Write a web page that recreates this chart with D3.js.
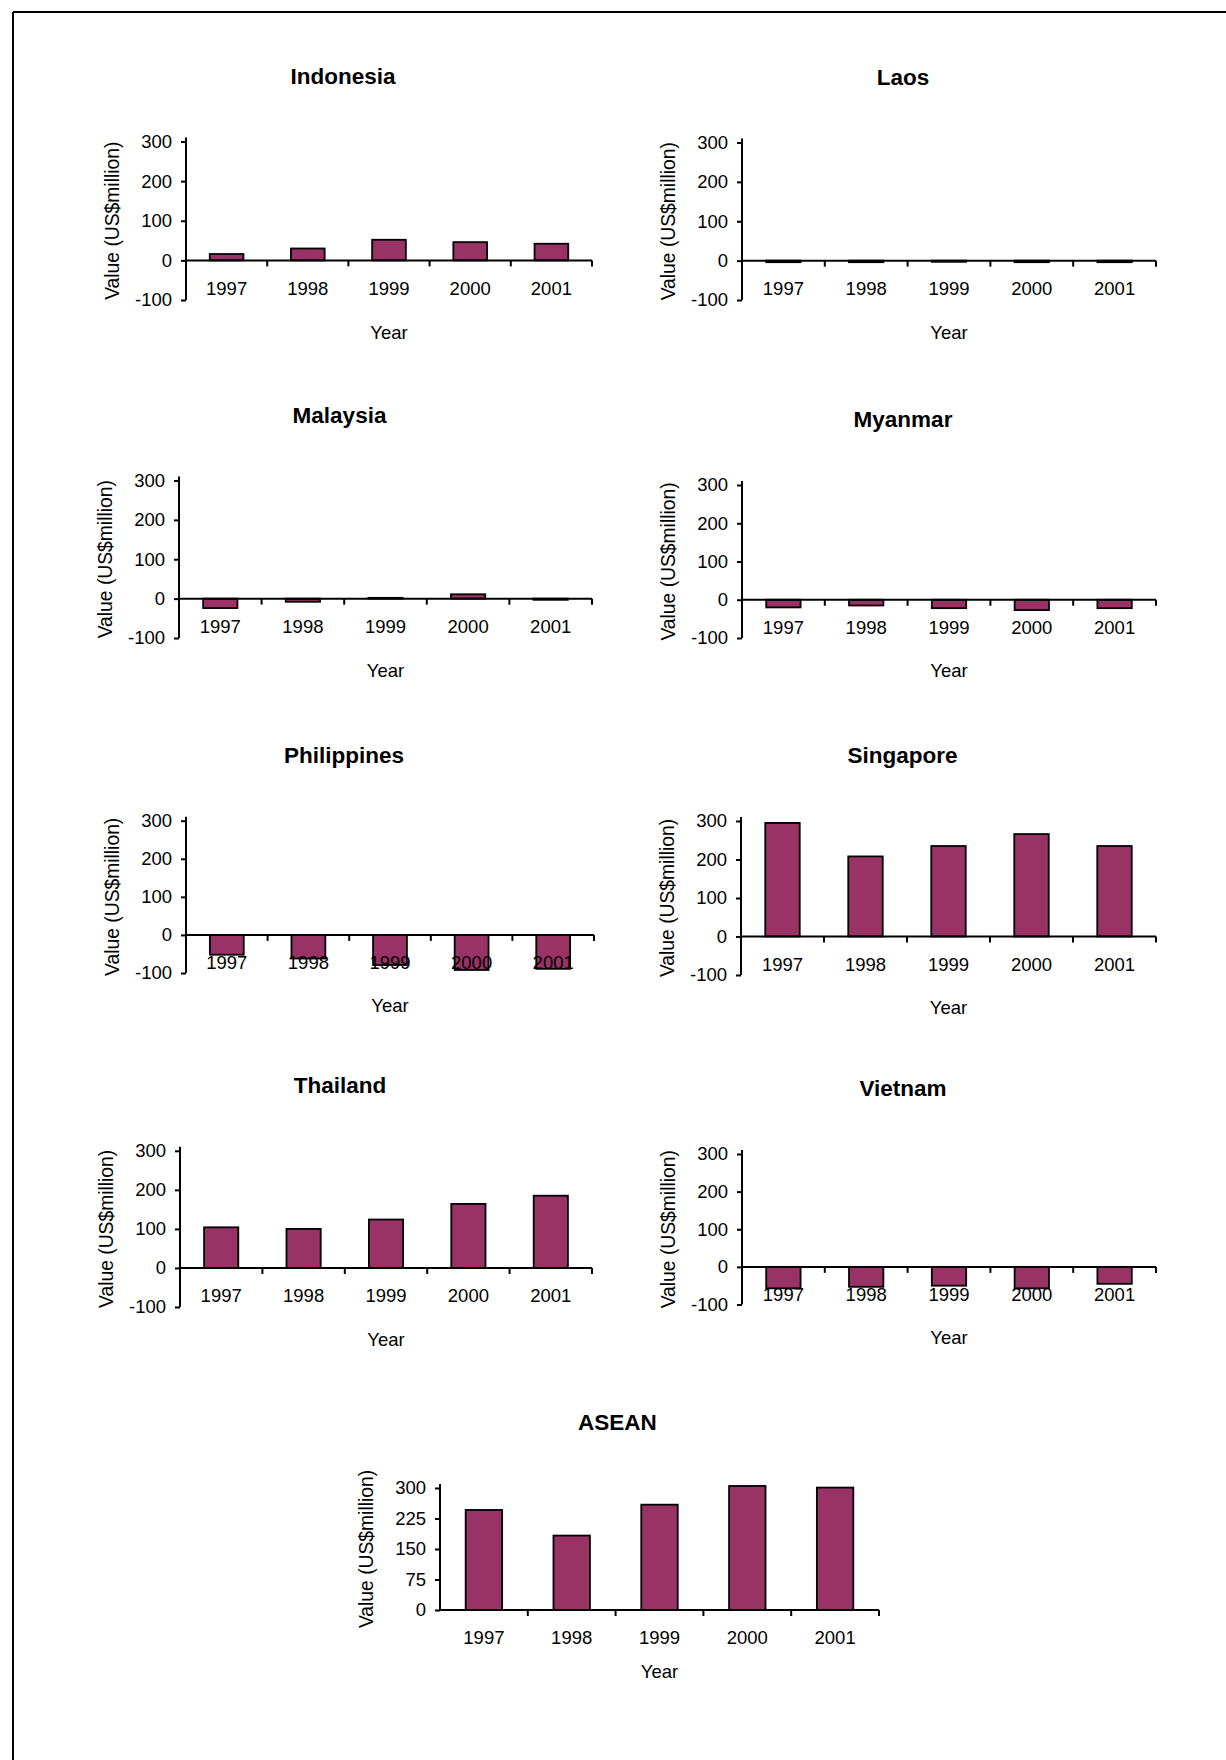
<!DOCTYPE html>
<html>
<head>
<meta charset="utf-8">
<script src="https://cdn.jsdelivr.net/npm/d3@7"></script>
<style>
  html, body { margin: 0; padding: 0; background: #fff; }
  svg { display: block; }
  text { font-family: "Liberation Sans", Arial, sans-serif; fill: #000; }
</style>
</head>
<body>
<svg id="chart" width="1226" height="1760"></svg>
<script>
// Foreign direct investment flows, US$ million, 1997-2001
const years = ["1997", "1998", "1999", "2000", "2001"];
const indonesia   = [16, 30, 52, 46, 42];
const laos        = [-4, -4, -3, -4, -4];
const malaysia    = [-24, -8, 2, 11, -3];
const myanmar     = [-20, -15, -22, -27, -22];
const philippines = [-52, -62, -79, -92, -89];
const singapore   = [295, 208, 235, 266, 235];
const thailand    = [104, 100, 124, 164, 185];
const vietnam     = [-57, -53, -50, -57, -45];
const asean       = [246, 183, 259, 305, 301];

const countryTicks = [-100, 0, 100, 200, 300];
const aseanTicks = [0, 75, 150, 225, 300];

const yTitle = "Value (US$million)";
const xTitle = "Year";

// Panel placement on the page (plot-area edges in px)
const panels = [
  { name: "Indonesia",   values: indonesia,   ticks: countryTicks, left: 186, right: 592,  top: 141.5, bottom: 300 },
  { name: "Laos",        values: laos,        ticks: countryTicks, left: 742, right: 1156, top: 142.5, bottom: 300 },
  { name: "Malaysia",    values: malaysia,    ticks: countryTicks, left: 179, right: 592,  top: 480.5, bottom: 638 },
  { name: "Myanmar",     values: myanmar,     ticks: countryTicks, left: 742, right: 1156, top: 485,   bottom: 638 },
  { name: "Philippines", values: philippines, ticks: countryTicks, left: 186, right: 594,  top: 820.7, bottom: 973 },
  { name: "Singapore",   values: singapore,   ticks: countryTicks, left: 741, right: 1156, top: 821,   bottom: 975 },
  { name: "Thailand",    values: thailand,    ticks: countryTicks, left: 180, right: 592,  top: 1150.8, bottom: 1307 },
  { name: "Vietnam",     values: vietnam,     ticks: countryTicks, left: 742, right: 1156, top: 1154,  bottom: 1304.5 },
  { name: "ASEAN",       values: asean,       ticks: aseanTicks,   left: 440, right: 879,  top: 1488,  bottom: 1610, titleShift: -42, yearGap: 68 }
];

const BAR_FILL = "#993366";
const FONT = "'Liberation Sans', Arial, sans-serif";
const svg = d3.select("#chart");

// page frame: top and left rules
svg.append("line").attr("x1", 13).attr("y1", 12).attr("x2", 1226).attr("y2", 12)
  .attr("stroke", "#000").attr("stroke-width", 2);
svg.append("line").attr("x1", 13).attr("y1", 12).attr("x2", 13).attr("y2", 1760)
  .attr("stroke", "#000").attr("stroke-width", 2);

panels.forEach(p => {
  const g = svg.append("g").attr("class", "panel");
  const data = years.map((yr, i) => ({ year: yr, value: p.values[i] }));

  const y = d3.scaleLinear()
    .domain(d3.extent(p.ticks))
    .range([p.bottom, p.top]);
  const x = d3.scaleBand()
    .domain(years)
    .range([p.left, p.right]);
  const barW = x.bandwidth() * 0.415;

  // bars
  g.selectAll("rect.bar")
    .data(data)
    .join("rect")
    .attr("class", "bar")
    .attr("x", d => x(d.year) + (x.bandwidth() - barW) / 2)
    .attr("y", d => Math.min(y(d.value), y(0)))
    .attr("width", barW)
    .attr("height", d => Math.abs(y(d.value) - y(0)))
    .attr("fill", BAR_FILL)
    .attr("stroke", "#000")
    .attr("stroke-width", 1.8);

  // value axis (plain hyphen for negatives)
  const yAxis = d3.axisLeft(y)
    .tickValues(p.ticks)
    .tickFormat(d => String(d))
    .tickSize(5)
    .tickSizeOuter(0)
    .tickPadding(9);
  const ya = g.append("g")
    .attr("transform", `translate(${p.left},0)`)
    .call(yAxis);
  ya.select(".domain").remove();
  ya.append("line")
    .attr("x1", 0).attr("x2", 0)
    .attr("y1", p.top - 4).attr("y2", p.bottom)
    .attr("stroke", "#000").attr("stroke-width", 2);
  ya.selectAll(".tick line").attr("stroke", "#000").attr("stroke-width", 2);
  ya.selectAll(".tick text")
    .attr("font-size", 18.5)
    .style("font-family", FONT);

  // category axis through zero
  const xAxis = d3.axisBottom(x)
    .tickSize(0)
    .tickSizeOuter(0)
    .tickPadding(21);
  const xa = g.append("g")
    .attr("transform", `translate(0,${y(0)})`)
    .call(xAxis);
  xa.select(".domain").remove();
  xa.append("line")
    .attr("x1", p.left).attr("x2", p.right)
    .attr("y1", 0).attr("y2", 0)
    .attr("stroke", "#000").attr("stroke-width", 2);
  xa.selectAll(".tick text")
    .attr("font-size", 18.5)
    .style("font-family", FONT);
  // tick marks at category boundaries
  xa.selectAll("line.boundary")
    .data(years)
    .join("line")
    .attr("class", "boundary")
    .attr("x1", d => x(d) + x.bandwidth())
    .attr("x2", d => x(d) + x.bandwidth())
    .attr("y1", 0).attr("y2", 6)
    .attr("stroke", "#000").attr("stroke-width", 2);

  // titles
  const cx = (p.left + p.right) / 2;
  g.append("text")
    .attr("x", cx + (p.titleShift !== undefined ? p.titleShift : -46))
    .attr("y", p.top - 58)
    .attr("text-anchor", "middle")
    .attr("font-size", 22.5)
    .attr("font-weight", "bold")
    .text(p.name);

  g.append("text")
    .attr("x", cx)
    .attr("y", p.bottom + (p.yearGap !== undefined ? p.yearGap : 39))
    .attr("text-anchor", "middle")
    .attr("font-size", 18.5)
    .text(xTitle);

  g.append("text")
    .attr("transform", `translate(${p.left - 74},${(p.top + p.bottom) / 2}) rotate(-90)`)
    .attr("text-anchor", "middle")
    .attr("dominant-baseline", "central")
    .attr("font-size", 19.3)
    .text(yTitle);
});
</script>
</body>
</html>
